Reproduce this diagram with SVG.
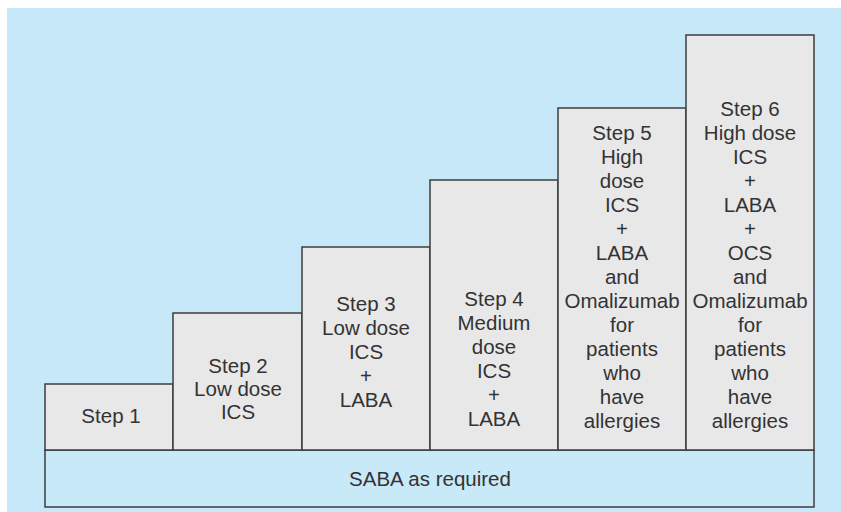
<svg xmlns="http://www.w3.org/2000/svg" width="841" height="512" viewBox="0 0 841 512">
<style>
.box{fill:#e8e8e9;stroke:#3c3c3c;stroke-width:1.5}
.bar{fill:#c8e9f8;stroke:#3c3c3c;stroke-width:1.5}
text{font-family:"Liberation Sans",Arial,sans-serif;font-size:20.5px;fill:#333;text-anchor:middle}
</style>
<rect x="0" y="0" width="841" height="512" fill="#ffffff"/>
<rect x="7" y="8" width="834" height="504" fill="#c6e8f8"/>
<g id="saba">
<rect class="bar" x="45" y="450" width="769" height="57"/>
<text x="430" y="486">SABA as required</text>
</g>
<g id="step1">
<rect class="box" x="45" y="384" width="128" height="66"/>
<text x="111" y="423">Step 1</text>
</g>
<g id="step2">
<rect class="box" x="173" y="313" width="129" height="137"/>
<text x="238" y="373">Step 2</text>
<text x="238" y="396">Low dose</text>
<text x="238" y="419">ICS</text>
</g>
<g id="step3">
<rect class="box" x="302" y="247" width="128" height="203"/>
<text x="366" y="311">Step 3</text>
<text x="366" y="335">Low dose</text>
<text x="366" y="359">ICS</text>
<text x="366" y="383">+</text>
<text x="366" y="407">LABA</text>
</g>
<g id="step4">
<rect class="box" x="430" y="180" width="128" height="270"/>
<text x="494" y="306">Step 4</text>
<text x="494" y="330">Medium</text>
<text x="494" y="354">dose</text>
<text x="494" y="378">ICS</text>
<text x="494" y="402">+</text>
<text x="494" y="426">LABA</text>
</g>
<g id="step5">
<rect class="box" x="558" y="108" width="128" height="342"/>
<text x="622" y="140">Step 5</text>
<text x="622" y="164">High</text>
<text x="622" y="188">dose</text>
<text x="622" y="212">ICS</text>
<text x="622" y="236">+</text>
<text x="622" y="260">LABA</text>
<text x="622" y="284">and</text>
<text x="622" y="308">Omalizumab</text>
<text x="622" y="332">for</text>
<text x="622" y="356">patients</text>
<text x="622" y="380">who</text>
<text x="622" y="404">have</text>
<text x="622" y="428">allergies</text>
</g>
<g id="step6">
<rect class="box" x="686" y="35" width="128" height="415"/>
<text x="750" y="116">Step 6</text>
<text x="750" y="140">High dose</text>
<text x="750" y="164">ICS</text>
<text x="750" y="188">+</text>
<text x="750" y="212">LABA</text>
<text x="750" y="236">+</text>
<text x="750" y="260">OCS</text>
<text x="750" y="284">and</text>
<text x="750" y="308">Omalizumab</text>
<text x="750" y="332">for</text>
<text x="750" y="356">patients</text>
<text x="750" y="380">who</text>
<text x="750" y="404">have</text>
<text x="750" y="428">allergies</text>
</g>
<g id="connectors"></g>
</svg>
